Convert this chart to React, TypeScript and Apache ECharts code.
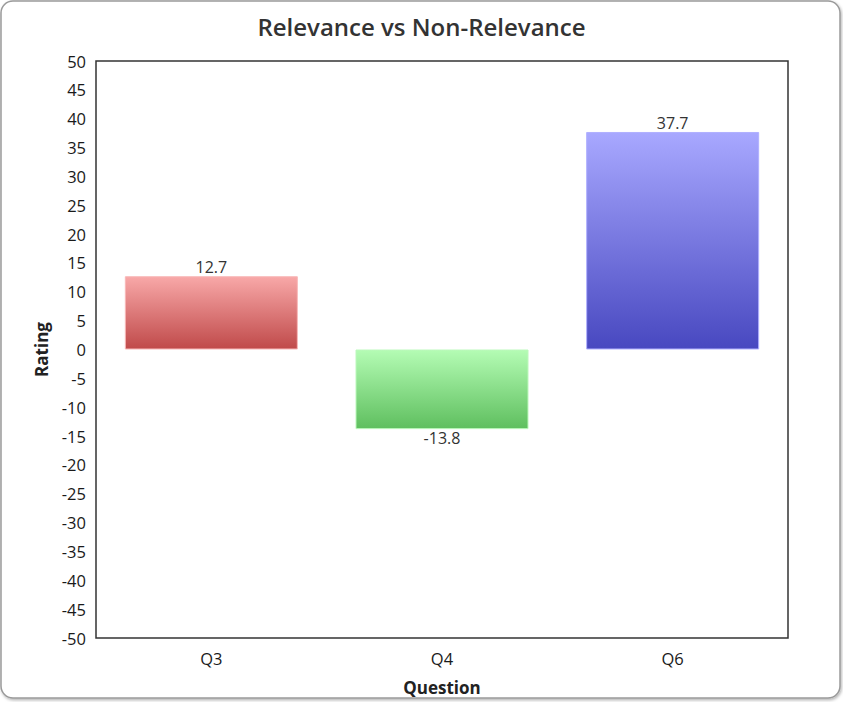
import React, { useEffect, useRef } from "react";
import * as echarts from "echarts";

const categories = ["Q3", "Q4", "Q6"];
const ratings = [12.7, -13.8, 37.7];
const barTopColors = ["#f8a8a8", "#b4fcb4", "#a8a8ff"];
const barBottomColors = ["#c04a4a", "#5fbf5f", "#4848c0"];
const barBorderColors = ["#f8b8b8", "#bcf8bc", "#b0b0ff"];

const FONT = "'Open Sans', 'Noto Sans', sans-serif";

export default function App() {
  const ref = useRef<HTMLDivElement>(null);

  useEffect(() => {
    document.body.style.margin = "0";
    if (!ref.current) return;
    const chart = echarts.init(ref.current, undefined, { renderer: "svg" });

    const data = ratings.map((v, i) => ({
      value: v,
      itemStyle: {
        color: new echarts.graphic.LinearGradient(0, 0, 0, 1, [
          { offset: 0, color: barTopColors[i] },
          { offset: 1, color: barBottomColors[i] },
        ]),
        borderColor: barBorderColors[i],
        borderWidth: 1,
      },
      label: { position: v < 0 ? "bottom" : "top" },
    }));

    chart.setOption({
      animation: false,
      backgroundColor: "#ffffff",
      textStyle: { fontFamily: FONT },
      title: {
        text: "Relevance vs Non-Relevance",
        left: "center",
        top: 9,
        textStyle: {
          fontFamily: FONT,
          fontSize: 24,
          fontWeight: 600,
          color: "#333333",
        },
      },
      graphic: [
        {
          type: "rect",
          z: -10,
          shape: { x: 1, y: 1, width: 839, height: 697, r: 12 },
          style: {
            fill: "#ffffff",
            stroke: "#9a9a9a",
            lineWidth: 1.5,
            shadowColor: "rgba(0,0,0,0.3)",
            shadowBlur: 3,
            shadowOffsetX: 1,
            shadowOffsetY: 1.5,
          },
          silent: true,
        },
      ],
      grid: {
        left: 96,
        right: 55,
        top: 61,
        bottom: 64,
        outerBoundsMode: "none",
        containLabel: false,
        show: true,
        borderColor: "#333333",
        borderWidth: 1.5,
        backgroundColor: "#ffffff",
      },
      xAxis: {
        type: "category",
        data: categories,
        name: "Question",
        nameLocation: "middle",
        nameGap: 41,
        nameTextStyle: {
          fontFamily: FONT,
          fontSize: 17,
          fontWeight: "bold",
          color: "#222222",
        },
        axisLine: { show: false },
        axisTick: { show: false },
        axisLabel: {
          fontFamily: FONT,
          fontSize: 16.5,
          color: "#1a1a1a",
          margin: 12,
        },
      },
      yAxis: {
        type: "value",
        min: -50,
        max: 50,
        interval: 5,
        name: "Rating",
        nameLocation: "middle",
        nameGap: 46,
        nameTextStyle: {
          fontFamily: FONT,
          fontSize: 17,
          fontWeight: "bold",
          color: "#222222",
        },
        axisLine: { show: false },
        axisTick: { show: false },
        splitLine: { show: false },
        axisLabel: {
          fontFamily: FONT,
          fontSize: 16.5,
          color: "#1a1a1a",
          margin: 10,
        },
      },
      series: [
        {
          type: "bar",
          data,
          barWidth: "75%",
          label: {
            show: true,
            fontFamily: FONT,
            fontSize: 16,
            color: "#333333",
            distance: 1,
            formatter: (p: any) => String(p.value),
          },
        },
      ],
    });

    return () => chart.dispose();
  }, []);

  return <div ref={ref} style={{ width: 843, height: 702 }} />;
}
